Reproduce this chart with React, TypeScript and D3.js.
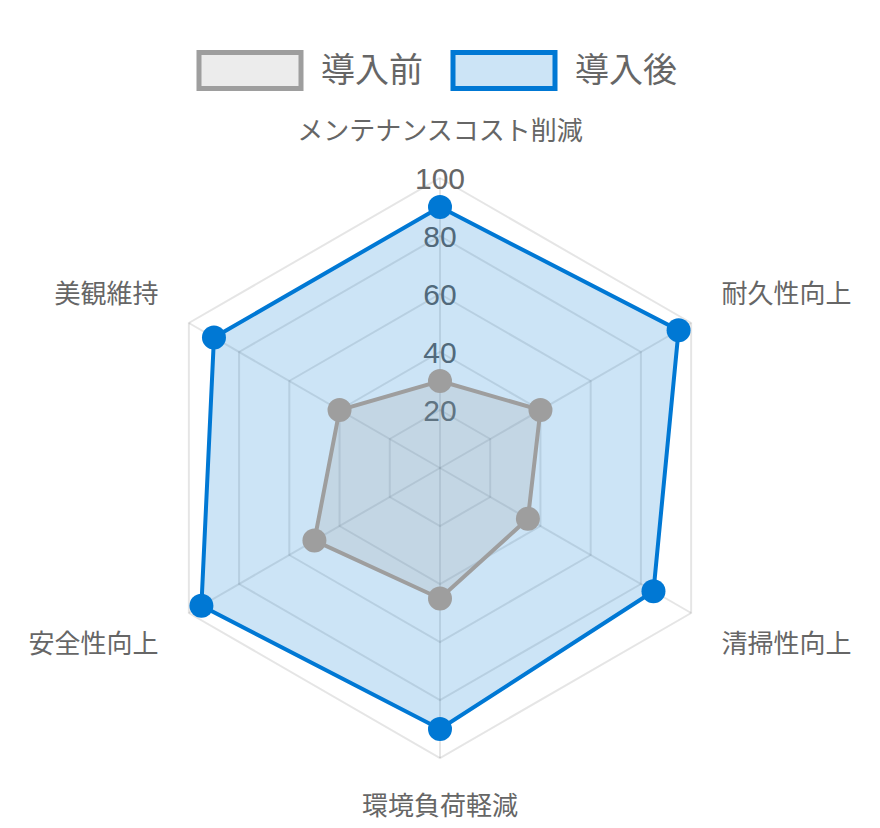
import React from "react";
import * as d3 from "d3";

// Axis categories (clockwise from the top)
const categories = [
  "メンテナンスコスト削減",
  "耐久性向上",
  "清掃性向上",
  "環境負荷軽減",
  "安全性向上",
  "美観維持",
];

// Series values
const seriesBefore = [30, 40, 35, 45, 50, 40];
const seriesAfter = [90, 95, 85, 90, 95, 90];

// Radial tick values
const tickValues = [20, 40, 60, 80, 100];

// Legend entries
const seriesNames = ["導入前", "導入後"];

const W = 880;
const H = 828;
const cx = 440;
const cy = 468;
const R = 290;

const FONT = "'Liberation Sans', Arial, 'Noto Sans CJK JP', sans-serif";
const TEXT = "#666666";
const GRID = "rgba(0,0,0,0.1)";

const styles = [
  { stroke: "#9e9e9e", fill: "rgba(158,158,158,0.2)" },
  { stroke: "#0078d4", fill: "rgba(0,120,212,0.2)" },
];

export default function App() {
  const r = d3.scaleLinear().domain([0, 100]).range([0, R]);
  const n = categories.length;
  const angle = d3
    .scalePoint<number>()
    .domain(d3.range(n + 1))
    .range([0, 2 * Math.PI]);

  const px = (i: number, v: number) => cx + r(v) * Math.sin(angle(i)!);
  const py = (i: number, v: number) => cy - r(v) * Math.cos(angle(i)!);

  const radial = d3
    .lineRadial<number>()
    .angle((_, i) => angle(i)!)
    .radius((d) => r(d))
    .curve(d3.curveLinearClosed);

  const ring = (v: number) => radial(d3.range(n).map(() => v)) ?? "";

  const datasets = [seriesBefore, seriesAfter];

  // Point label positions
  const labelR = R + 35;
  const labelFs = 26;

  return (
    <div style={{ position: "absolute", left: 0, top: 0 }}>
      <svg width={W} height={H} style={{ display: "block" }}>
        <rect width={W} height={H} fill="#ffffff" />

        {/* legend */}
        <g fontFamily={FONT}>
          {seriesNames.map((name, k) => {
            const x0 = k === 0 ? 199 : 453;
            return (
              <g key={name}>
                <rect
                  x={x0}
                  y={52.5}
                  width={102}
                  height={36}
                  fill={styles[k].fill}
                  stroke={styles[k].stroke}
                  strokeWidth={5}
                />
                <text
                  x={x0 + 122}
                  y={82}
                  fontSize={34}
                  fill={TEXT}
                >
                  {name}
                </text>
              </g>
            );
          })}
        </g>

        <g transform={`translate(${cx},${cy})`}>
          {tickValues.map((t) => (
            <path key={t} d={ring(t)} fill="none" stroke={GRID} strokeWidth={2} />
          ))}
        </g>
        {d3.range(n).map((i) => (
          <line
            key={i}
            x1={cx}
            y1={cy}
            x2={px(i, 100)}
            y2={py(i, 100)}
            stroke={GRID}
            strokeWidth={2}
          />
        ))}

        {/* tick labels */}
        {tickValues.map((t) => (
          <text
            key={t}
            x={cx}
            y={cy - r(t) + 11}
            textAnchor="middle"
            fontFamily={FONT}
            fontSize={30}
            fill={TEXT}
          >
            {t}
          </text>
        ))}

        {/* point labels */}
        {categories.map((c, i) => {
          const a = angle(i)!;
          const s = Math.sin(a);
          const co = Math.cos(a);
          const x = cx + labelR * s;
          const y = cy - labelR * co;
          const anchor = Math.abs(s) < 0.01 ? "middle" : s > 0 ? "start" : "end";
          const baseline = co > 0 ? y - 3 : y + labelFs * 0.86;
          return (
            <text
              key={c}
              x={x}
              y={baseline}
              textAnchor={anchor}
              fontFamily={FONT}
              fontSize={labelFs}
              fill={TEXT}
            >
              {c}
            </text>
          );
        })}

        {/* datasets: later series underneath, first series on top */}
        {[1, 0].map((k) => (
          <g key={k}>
            <path
              transform={`translate(${cx},${cy})`}
              d={radial(datasets[k]) ?? ""}
              fill={styles[k].fill}
              stroke={styles[k].stroke}
              strokeWidth={4}
              strokeLinejoin="miter"
            />
            {datasets[k].map((v, i) => (
              <circle
                key={i}
                cx={px(i, v)}
                cy={py(i, v)}
                r={12}
                fill={styles[k].stroke}
              />
            ))}
          </g>
        ))}
      </svg>
    </div>
  );
}
